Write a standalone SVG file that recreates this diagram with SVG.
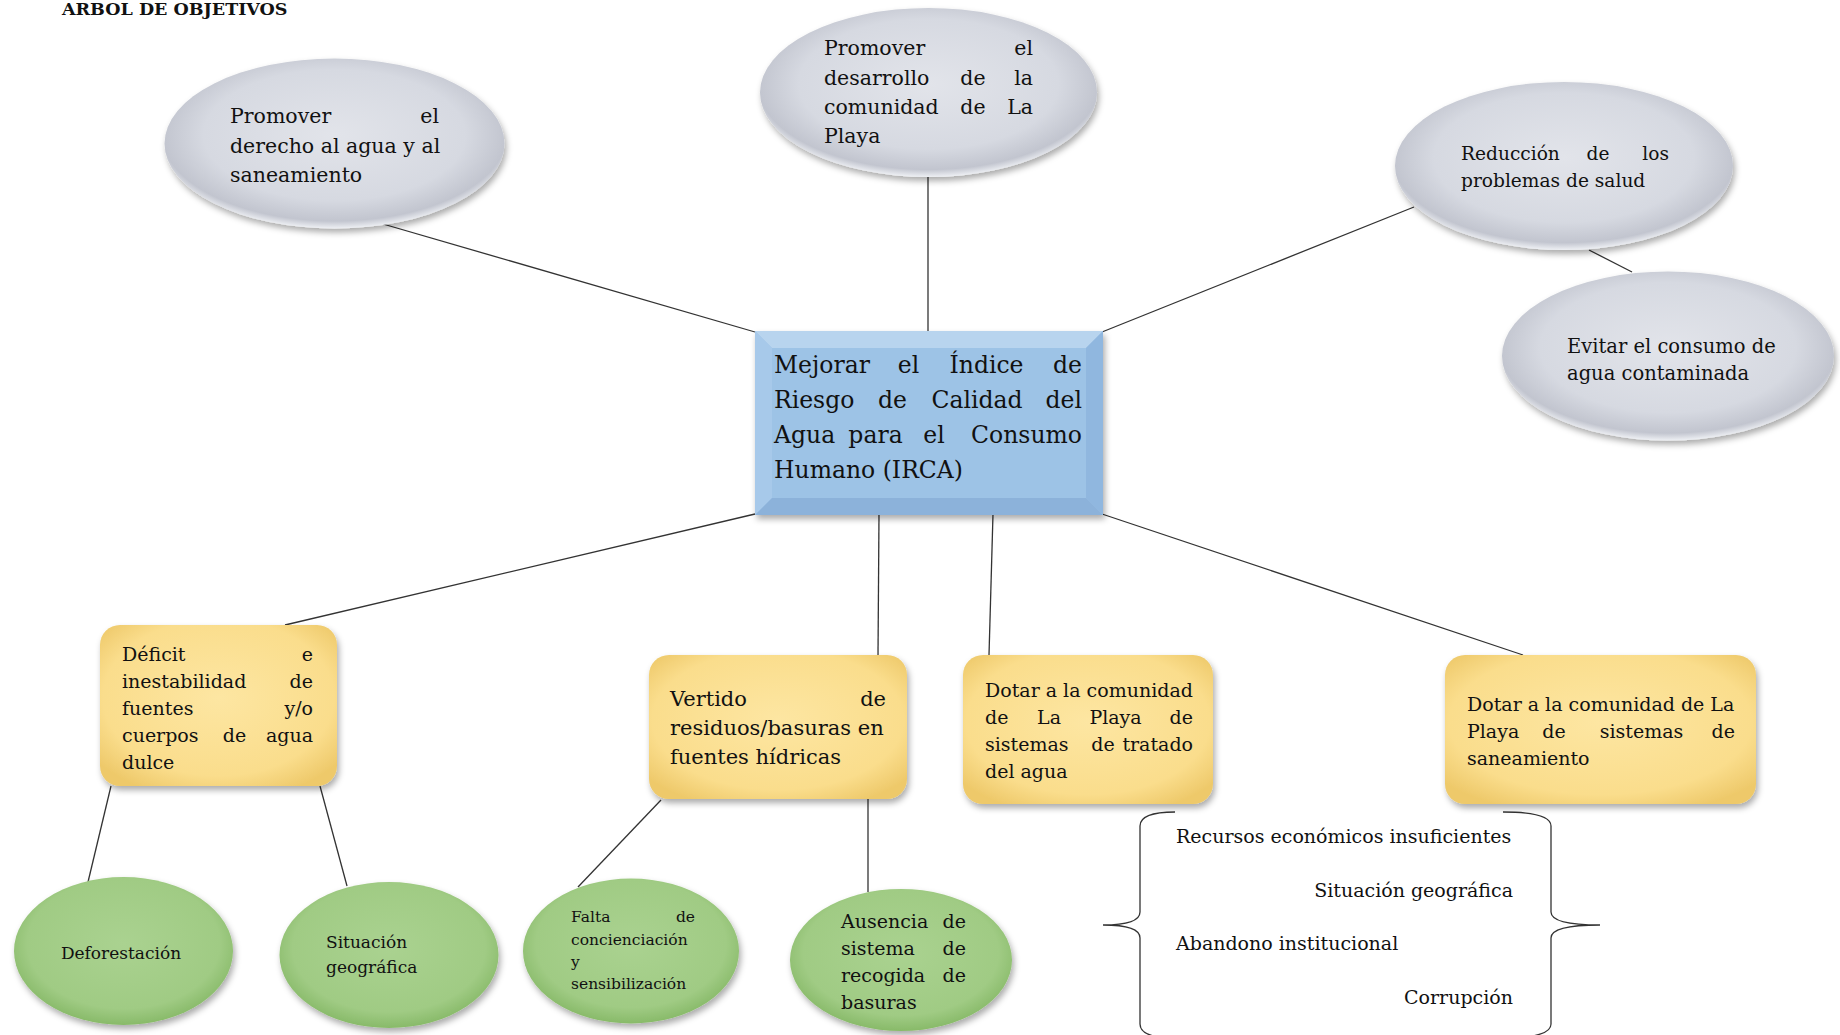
<svg xmlns="http://www.w3.org/2000/svg" width="1840" height="1035" viewBox="0 0 1840 1035">
<style>
text{font-family:"DejaVu Serif","Liberation Serif",serif;fill:#111;}
.t{font-size:20.5px}
.c{font-size:23.5px}
.s19{font-size:19px}
.s21{font-size:21px}
.s17{font-size:17px}
.s15{font-size:15.5px}
.e{text-anchor:end}
.m{text-anchor:middle}
.ln{stroke:#333;stroke-width:1.3;fill:none}
.gray{fill:url(#gGray);filter:url(#sh)}
.yel{fill:url(#gYel);filter:url(#sh)}
.grn{fill:url(#gGrn);filter:url(#sh)}
</style>
<defs>
<filter id="sh" x="-15%" y="-15%" width="135%" height="140%">
<feDropShadow dx="2" dy="4" stdDeviation="3" flood-color="#000" flood-opacity="0.33"/>
</filter>
<radialGradient id="gGray" cx="50%" cy="45%" r="55%">
<stop offset="0" stop-color="#e2e4ea"/>
<stop offset="0.7" stop-color="#d6d9e1"/>
<stop offset="0.92" stop-color="#c2c5cf"/>
<stop offset="1" stop-color="#eef0f4"/>
</radialGradient>
<radialGradient id="gYel" cx="50%" cy="45%" r="65%">
<stop offset="0" stop-color="#fde6a2"/>
<stop offset="0.75" stop-color="#fadd8c"/>
<stop offset="1" stop-color="#eec96a"/>
</radialGradient>
<radialGradient id="gGrn" cx="50%" cy="45%" r="55%">
<stop offset="0" stop-color="#aad290"/>
<stop offset="0.8" stop-color="#a0cb84"/>
<stop offset="1" stop-color="#88ba69"/>
</radialGradient>
</defs>
<rect width="1840" height="1035" fill="#ffffff"/>
<text x="62" y="15" style="font-size:17.5px;font-weight:bold">ARBOL DE OBJETIVOS</text>

<g id="connectors">
<line class="ln" x1="383" y1="224" x2="755" y2="332"/>
<line class="ln" x1="928" y1="177" x2="928" y2="332"/>
<line class="ln" x1="1102" y1="332" x2="1414" y2="207"/>
<line class="ln" x1="1589" y1="250" x2="1632" y2="272"/>
<line class="ln" x1="755" y1="514" x2="285" y2="625"/>
<line class="ln" x1="879" y1="514" x2="878" y2="655"/>
<line class="ln" x1="993" y1="514" x2="989" y2="655"/>
<line class="ln" x1="1102" y1="514" x2="1523" y2="655"/>
<line class="ln" x1="111" y1="786" x2="88" y2="882"/>
<line class="ln" x1="320" y1="786" x2="347" y2="886"/>
<line class="ln" x1="661" y1="800" x2="578" y2="887"/>
<line class="ln" x1="868" y1="798" x2="868" y2="892"/>
</g>

<g id="brackets">
<path class="ln" d="M1175,812 Q1140,812 1140,826 L1140,912 Q1140,925 1103,925 Q1140,925 1140,938 L1140,1024 Q1140,1038 1175,1038"/>
<path class="ln" d="M1503,812 Q1551,812 1551,826 L1551,912 Q1551,925 1600,925 Q1551,925 1551,938 L1551,1024 Q1551,1038 1503,1038"/>
<text class="s19" x="1176" y="843">Recursos económicos insuficientes</text>
<text class="s19 e" x="1513" y="897">Situación geográfica</text>
<text class="s19" x="1176" y="950">Abandono institucional</text>
<text class="s19 e" x="1513" y="1004">Corrupción</text>
</g>

<g id="n-derecho">
<ellipse class="gray" cx="334.5" cy="143.5" rx="170" ry="85"/>
<text class="t" x="230" y="123">Promover</text><text class="t e" x="439" y="123">el</text>
<text class="t" x="230" y="152.5">derecho al agua y al</text>
<text class="t" x="230" y="182">saneamiento</text>
</g>

<g id="n-desarrollo">
<ellipse class="gray" cx="928.5" cy="92.5" rx="168.5" ry="84.5"/>
<text class="t" x="824" y="55">Promover</text><text class="t e" x="1033" y="55">el</text>
<text class="t" x="824" y="84.5">desarrollo</text><text class="t m" x="973" y="84.5">de</text><text class="t e" x="1033" y="84.5">la</text>
<text class="t" x="824" y="114">comunidad</text><text class="t m" x="973" y="114">de</text><text class="t e" x="1033" y="114">La</text>
<text class="t" x="824" y="143">Playa</text>
</g>

<g id="n-salud">
<ellipse class="gray" cx="1564" cy="166" rx="169" ry="84"/>
<text x="1461" y="160" style="font-size:18.6px">Reducción</text><text class="m" x="1598" y="160" style="font-size:18.6px">de</text><text class="e" x="1669" y="160" style="font-size:18.6px">los</text>
<text x="1461" y="187" style="font-size:18.6px">problemas de salud</text>
</g>

<g id="n-evitar">
<ellipse class="gray" cx="1668" cy="356" rx="166" ry="84.5"/>
<text x="1567" y="353" style="font-size:19.5px">Evitar el consumo de</text>
<text x="1567" y="380" style="font-size:19.5px">agua contaminada</text>
</g>

<g id="n-central">
<g filter="url(#sh)">
<rect x="755" y="331" width="348" height="184" fill="#9dc3e6"/>
<polygon points="755,331 1103,331 1086,348 772,348" fill="#b8d4ee"/>
<polygon points="755,331 772,348 772,498 755,515" fill="#a7c9ea"/>
<polygon points="1103,331 1103,515 1086,498 1086,348" fill="#90b7df"/>
<polygon points="755,515 772,498 1086,498 1103,515" fill="#8cb2da"/>
<rect x="772" y="348" width="314" height="150" fill="#9dc3e6"/>
</g>
<text class="c" x="774" y="373">Mejorar</text><text class="c m" x="908.5" y="373">el</text><text class="c m" x="986.5" y="373">Índice</text><text class="c e" x="1082" y="373">de</text>
<text class="c" x="774" y="408">Riesgo</text><text class="c m" x="892.5" y="408">de</text><text class="c m" x="977" y="408">Calidad</text><text class="c e" x="1082" y="408">del</text>
<text class="c" x="774" y="443">Agua</text><text class="c m" x="875.5" y="443">para</text><text class="c m" x="934" y="443">el</text><text class="c e" x="1082" y="443">Consumo</text>
<text class="c" x="774" y="478">Humano (IRCA)</text>
</g>

<g id="n-deficit">
<rect class="yel" x="100" y="625" width="237" height="161" rx="20"/>
<text class="s19" x="122" y="661">Déficit</text><text class="s19 e" x="313" y="661">e</text>
<text class="s19" x="122" y="688">inestabilidad</text><text class="s19 e" x="313" y="688">de</text>
<text class="s19" x="122" y="715">fuentes</text><text class="s19 e" x="313" y="715">y/o</text>
<text class="s19" x="122" y="742">cuerpos</text><text class="s19 m" x="234.5" y="742">de</text><text class="s19 e" x="313" y="742">agua</text>
<text class="s19" x="122" y="769">dulce</text>
</g>

<g id="n-vertido">
<rect class="yel" x="649" y="655" width="258" height="144" rx="20"/>
<text class="s21" x="670" y="706">Vertido</text><text class="s21 e" x="886" y="706">de</text>
<text class="s21" x="670" y="735">residuos/basuras en</text>
<text class="s21" x="670" y="764">fuentes hídricas</text>
</g>

<g id="n-tratado">
<rect class="yel" x="963" y="655" width="250" height="149" rx="20"/>
<text class="s19" x="985" y="697">Dotar a la comunidad</text>
<text class="s19" x="985" y="724">de</text><text class="s19 m" x="1049" y="724">La</text><text class="s19 m" x="1115.5" y="724">Playa</text><text class="s19 e" x="1193" y="724">de</text>
<text class="s19" x="985" y="751">sistemas</text><text class="s19 m" x="1103" y="751">de</text><text class="s19 e" x="1193" y="751">tratado</text>
<text class="s19" x="985" y="778">del agua</text>
</g>

<g id="n-saneamiento">
<rect class="yel" x="1445" y="655" width="311" height="149" rx="20"/>
<text class="s19" x="1467" y="711">Dotar a la comunidad de La</text>
<text class="s19" x="1467" y="738">Playa</text><text class="s19 m" x="1554" y="738">de</text><text class="s19 m" x="1641.5" y="738">sistemas</text><text class="s19 e" x="1735" y="738">de</text>
<text class="s19" x="1467" y="765">saneamiento</text>
</g>

<g id="n-deforestacion">
<ellipse class="grn" cx="123.5" cy="951" rx="109.5" ry="74"/>
<text class="s17 m" x="121" y="959">Deforestación</text>
</g>

<g id="n-situacion">
<ellipse class="grn" cx="389" cy="955" rx="109.5" ry="73"/>
<text class="s17" x="326" y="948">Situación</text>
<text class="s17" x="326" y="973">geográfica</text>
</g>

<g id="n-falta">
<ellipse class="grn" cx="631" cy="951" rx="108" ry="72.5"/>
<text class="s15" x="571" y="922">Falta</text><text class="s15 e" x="695" y="922">de</text>
<text class="s15" x="571" y="945">concienciación</text>
<text class="s15" x="571" y="967">y</text>
<text class="s15" x="571" y="989">sensibilización</text>
</g>

<g id="n-ausencia">
<ellipse class="grn" cx="901" cy="960" rx="111" ry="71"/>
<text class="s19" x="841" y="928">Ausencia</text><text class="s19 e" x="966" y="928">de</text>
<text class="s19" x="841" y="955">sistema</text><text class="s19 e" x="966" y="955">de</text>
<text class="s19" x="841" y="982">recogida</text><text class="s19 e" x="966" y="982">de</text>
<text class="s19" x="841" y="1009">basuras</text>
</g>
</svg>
